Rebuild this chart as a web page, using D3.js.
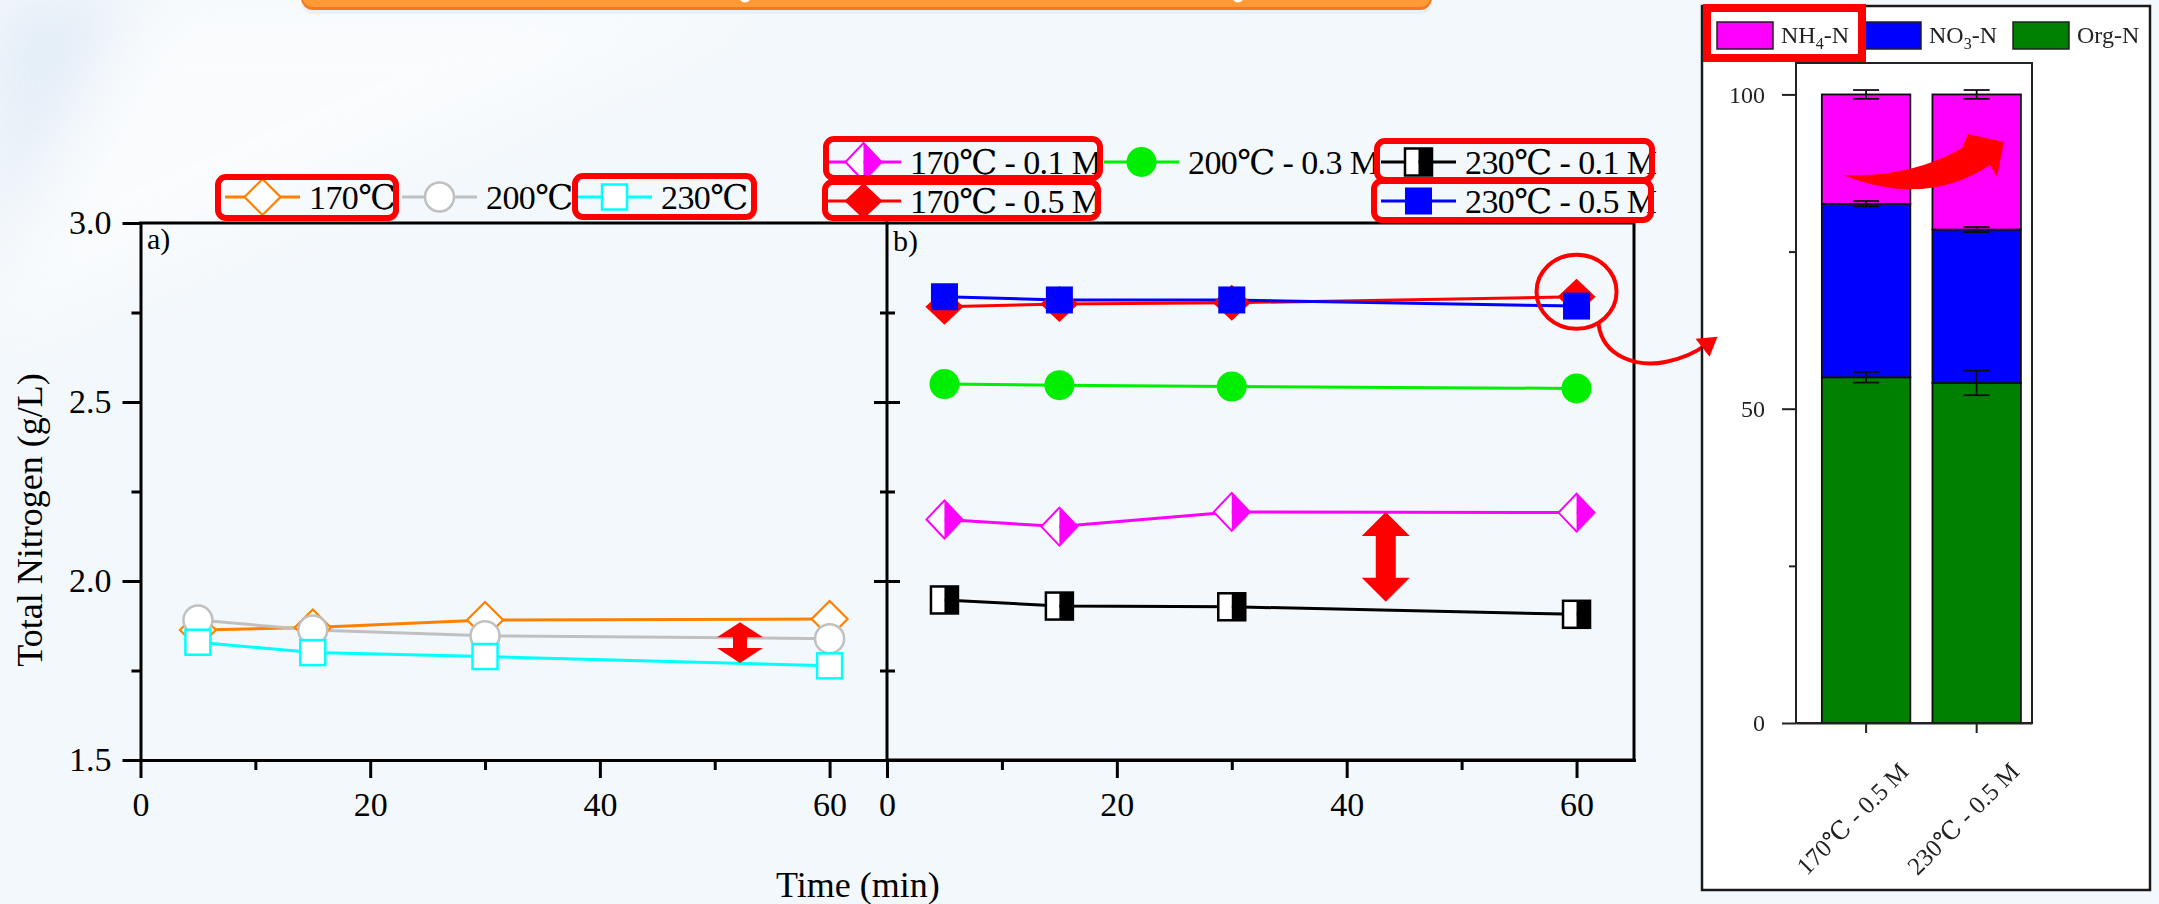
<!DOCTYPE html>
<html>
<head>
<meta charset="utf-8">
<script src="https://cdn.jsdelivr.net/npm/d3@7"></script>
<style>
  html, body { margin: 0; padding: 0; background: #f3f8fc; }
  svg { display: block; }
</style>
</head>
<body>
<svg id="chart" width="2159" height="904"></svg>
<script>
// ---------------- data ----------------
const timeMin = [5, 15, 30, 60];
const xTicksMajor = [0, 20, 40, 60];
const xTicksMinor = [10, 30, 50];
const yTicksMajor = [1.5, 2.0, 2.5, 3.0];
const yTicksMinor = [1.75, 2.25, 2.75];

// panel a) temperature only (g/L)
const tn170 = [1.863, 1.870, 1.891, 1.894];
const tn200 = [1.891, 1.863, 1.847, 1.839];
const tn230 = [1.829, 1.800, 1.789, 1.763];

// panel b) temperature + acid concentration (g/L)
const tn170_01M = [2.172, 2.152, 2.193, 2.191];
const tn200_03M = [2.550, 2.547, 2.543, 2.538];
const tn230_01M = [1.947, 1.930, 1.928, 1.907];
const tn170_05M = [2.766, 2.774, 2.777, 2.794];
const tn230_05M = [2.794, 2.785, 2.785, 2.768];

const labelsA = ["170℃", "200℃", "230℃"];
const labelsB = ["170℃ - 0.1 M", "200℃ - 0.3 M", "230℃ - 0.1 M", "170℃ - 0.5 M", "230℃ - 0.5 M"];

// nitrogen speciation (%)
const barCategories = ["170℃ - 0.5 M", "230℃ - 0.5 M"];
const orgN = [55.0, 54.1];
const no3N = [27.6, 24.4];
const nh4N = [17.4, 21.5];
const orgErr = [0.85, 1.95];
const no3Err = [0.45, 0.40];
const nh4Err = [0.70, 0.70];
const barTicksMajor = [0, 50, 100];
const barTicksMinor = [25, 75];

// ---------------- styles ----------------
const SERIF = "'Liberation Serif','Times New Roman','DejaVu Serif',serif";
const style = {
  diamondOpen: { color: "#ff8000", hw: 18, hh: 18, fill: "#ffffff" },
  circleOpen:  { color: "#c0c0c0", r: 14.5, fill: "#ffffff" },
  squareOpen:  { color: "#00ffff", half: 12.5, fill: "#ffffff" },
  diamondHalf: { color: "#ff00ff", hw: 18, hh: 19 },
  circleFill:  { color: "#00ee00", r: 15 },
  squareHalf:  { color: "#000000", half: 13.5 },
  diamondFill: { color: "#ff0000", hw: 19, hh: 18 },
  squareFill:  { color: "#0000ff", half: 13.5 }
};

const seriesA = [
  { label: labelsA[0], values: tn170, shape: "diamondOpen" },
  { label: labelsA[1], values: tn200, shape: "circleOpen" },
  { label: labelsA[2], values: tn230, shape: "squareOpen" }
];
const seriesB = [
  { label: labelsB[0], values: tn170_01M, shape: "diamondHalf" },
  { label: labelsB[1], values: tn200_03M, shape: "circleFill" },
  { label: labelsB[2], values: tn230_01M, shape: "squareHalf" },
  { label: labelsB[3], values: tn170_05M, shape: "diamondFill" },
  { label: labelsB[4], values: tn230_05M, shape: "squareFill" }
];

const svg = d3.select("#chart");

// ---------------- background ----------------
const defs = svg.append("defs");
defs.append("filter").attr("id", "soft").attr("x", "-50%").attr("y", "-50%").attr("width", "200%").attr("height", "200%")
  .append("feGaussianBlur").attr("stdDeviation", 30);
defs.append("filter").attr("id", "lightBlur")
  .append("feGaussianBlur").attr("stdDeviation", 0.45);

svg.append("rect").attr("width", 2159).attr("height", 904).attr("fill", "#f3f8fc");
svg.append("path").attr("d", "M0,0 L160,0 L0,300 Z").attr("fill", "#dfeaf5").attr("opacity", 0.8).attr("filter", "url(#soft)");
svg.append("path").attr("d", "M120,0 L760,0 L0,330 L0,220 Z").attr("fill", "#ffffff").attr("opacity", 0.55).attr("filter", "url(#soft)");

// header bar cut by the top edge
svg.append("rect").attr("x", 301).attr("y", -30).attr("width", 1131).attr("height", 44).attr("rx", 12)
  .attr("fill", "#e6ebef").attr("opacity", 0.7);
svg.append("rect").attr("x", 301).attr("y", -30).attr("width", 1131).attr("height", 40).attr("rx", 12)
  .attr("fill", "#f27a1f");
svg.append("rect").attr("x", 302).attr("y", -30).attr("width", 1129).attr("height", 37).attr("rx", 11)
  .attr("fill", "#ff9a36");
[745, 1238].forEach(cx => {
  svg.append("path").attr("d", `M${cx - 5},0 Q${cx},5 ${cx + 5},0`).attr("fill", "#ffffff");
});

// ---------------- scales ----------------
const y = d3.scaleLinear().domain([1.5, 3.0]).range([760, 223]);
const xA = d3.scaleLinear().domain([0, 65]).range([140.5, 887]);
const xB = d3.scaleLinear().domain([0, 65]).range([887, 1634]);

// ---------------- marker drawing ----------------
function drawMarker(g, shape, cx, cy) {
  const s = style[shape];
  if (shape === "diamondOpen") {
    g.append("path").attr("d", `M${cx},${cy - s.hh} L${cx + s.hw},${cy} L${cx},${cy + s.hh} L${cx - s.hw},${cy} Z`)
      .attr("fill", s.fill).attr("stroke", s.color).attr("stroke-width", 2.2);
  } else if (shape === "circleOpen") {
    g.append("circle").attr("cx", cx).attr("cy", cy).attr("r", s.r)
      .attr("fill", s.fill).attr("stroke", s.color).attr("stroke-width", 2.5);
  } else if (shape === "squareOpen") {
    g.append("rect").attr("x", cx - s.half).attr("y", cy - s.half).attr("width", 2 * s.half).attr("height", 2 * s.half)
      .attr("fill", s.fill).attr("stroke", s.color).attr("stroke-width", 2.5);
  } else if (shape === "diamondHalf") {
    g.append("path").attr("d", `M${cx},${cy - s.hh} L${cx},${cy + s.hh} L${cx - s.hw},${cy} Z`).attr("fill", "#ffffff");
    g.append("path").attr("d", `M${cx},${cy - s.hh} L${cx + s.hw},${cy} L${cx},${cy + s.hh} Z`).attr("fill", s.color);
    g.append("path").attr("d", `M${cx},${cy - s.hh} L${cx + s.hw},${cy} L${cx},${cy + s.hh} L${cx - s.hw},${cy} Z`)
      .attr("fill", "none").attr("stroke", s.color).attr("stroke-width", 2);
  } else if (shape === "circleFill") {
    g.append("circle").attr("cx", cx).attr("cy", cy).attr("r", s.r).attr("fill", s.color);
  } else if (shape === "squareHalf") {
    g.append("rect").attr("x", cx - s.half).attr("y", cy - s.half).attr("width", s.half).attr("height", 2 * s.half).attr("fill", "#ffffff");
    g.append("rect").attr("x", cx).attr("y", cy - s.half).attr("width", s.half).attr("height", 2 * s.half).attr("fill", s.color);
    g.append("rect").attr("x", cx - s.half).attr("y", cy - s.half).attr("width", 2 * s.half).attr("height", 2 * s.half)
      .attr("fill", "none").attr("stroke", s.color).attr("stroke-width", 2.5);
  } else if (shape === "diamondFill") {
    g.append("path").attr("d", `M${cx},${cy - s.hh} L${cx + s.hw},${cy} L${cx},${cy + s.hh} L${cx - s.hw},${cy} Z`)
      .attr("fill", s.color);
  } else if (shape === "squareFill") {
    g.append("rect").attr("x", cx - s.half).attr("y", cy - s.half).attr("width", 2 * s.half).attr("height", 2 * s.half)
      .attr("fill", s.color);
  }
}

function drawSeries(g, x, series) {
  series.forEach(sr => {
    const pts = timeMin.map((t, i) => [x(t), y(sr.values[i])]);
    g.append("path").attr("d", d3.line()(pts)).attr("fill", "none")
      .attr("stroke", style[sr.shape].color).attr("stroke-width", 3);
  });
  series.forEach(sr => {
    const mg = g.append("g");
    timeMin.forEach((t, i) => drawMarker(mg, sr.shape, x(t), y(sr.values[i])));
  });
}

function styleAxis(sel, width) {
  sel.select(".domain").attr("stroke", "#000").attr("stroke-width", width).attr("stroke-linecap", "square");
  sel.selectAll(".tick line").attr("stroke", "#000").attr("stroke-width", width);
  sel.selectAll(".tick text").attr("fill", "#000").attr("font-family", SERIF).attr("font-size", 34);
}

// ---------------- panel a ----------------
const pa = svg.append("g");
pa.append("line").attr("x1", xA(0)).attr("x2", xA(65)).attr("y1", y(3.0)).attr("y2", y(3.0))
  .attr("stroke", "#000").attr("stroke-width", 3).attr("stroke-linecap", "square");
pa.append("g").attr("transform", `translate(${xA(0)},0)`)
  .call(d3.axisLeft(y).tickValues(yTicksMajor).tickSize(18).tickSizeOuter(0).tickPadding(11).tickFormat(d3.format(".1f")))
  .call(s => styleAxis(s, 3));
pa.append("g").attr("transform", `translate(${xA(0)},0)`)
  .call(d3.axisLeft(y).tickValues(yTicksMinor).tickSize(9).tickFormat(""))
  .call(s => { s.select(".domain").remove(); s.selectAll(".tick line").attr("stroke", "#000").attr("stroke-width", 3); });
pa.append("g").attr("transform", `translate(0,${y(1.5)})`)
  .call(d3.axisBottom(xA).tickValues(xTicksMajor).tickSize(18).tickSizeOuter(0).tickPadding(14))
  .call(s => styleAxis(s, 3));
pa.append("g").attr("transform", `translate(0,${y(1.5)})`)
  .call(d3.axisBottom(xA).tickValues(xTicksMinor).tickSize(10).tickFormat(""))
  .call(s => { s.select(".domain").remove(); s.selectAll(".tick line").attr("stroke", "#000").attr("stroke-width", 3); });
pa.append("text").attr("x", 147).attr("y", 249).attr("font-family", SERIF).attr("font-size", 30).text("a)");

// ---------------- panel b ----------------
const pb = svg.append("g");
pb.append("rect").attr("x", xB(0)).attr("y", y(3.0)).attr("width", xB(65) - xB(0)).attr("height", y(1.5) - y(3.0))
  .attr("fill", "none").attr("stroke", "#000").attr("stroke-width", 3);
pb.append("g").attr("transform", `translate(${xB(0)},0)`)
  .call(d3.axisLeft(y).tickValues(yTicksMajor.slice(1, 3)).tickSize(13).tickFormat(""))
  .call(s => { s.select(".domain").remove(); s.selectAll(".tick line").attr("stroke", "#000").attr("stroke-width", 3); });
pb.append("g").attr("transform", `translate(${xB(0)},0)`)
  .call(d3.axisRight(y).tickValues(yTicksMajor.slice(1, 3)).tickSize(13).tickFormat(""))
  .call(s => { s.select(".domain").remove(); s.selectAll(".tick line").attr("stroke", "#000").attr("stroke-width", 3); });
pb.append("g").attr("transform", `translate(${xB(0)},0)`)
  .call(d3.axisLeft(y).tickValues(yTicksMinor).tickSize(7).tickFormat(""))
  .call(s => { s.select(".domain").remove(); s.selectAll(".tick line").attr("stroke", "#000").attr("stroke-width", 3); });
pb.append("g").attr("transform", `translate(${xB(0)},0)`)
  .call(d3.axisRight(y).tickValues(yTicksMinor).tickSize(8).tickFormat(""))
  .call(s => { s.select(".domain").remove(); s.selectAll(".tick line").attr("stroke", "#000").attr("stroke-width", 3); });
pb.append("g").attr("transform", `translate(0,${y(1.5)})`)
  .call(d3.axisBottom(xB).tickValues(xTicksMajor).tickSize(18).tickSizeOuter(0).tickPadding(14))
  .call(s => styleAxis(s, 3));
pb.append("g").attr("transform", `translate(0,${y(1.5)})`)
  .call(d3.axisBottom(xB).tickValues(xTicksMinor).tickSize(10).tickFormat(""))
  .call(s => { s.select(".domain").remove(); s.selectAll(".tick line").attr("stroke", "#000").attr("stroke-width", 3); });
pb.append("text").attr("x", 893).attr("y", 251).attr("font-family", SERIF).attr("font-size", 30).text("b)");

// axis titles
svg.append("text").attr("transform", "translate(42,520) rotate(-90)").attr("text-anchor", "middle")
  .attr("font-family", SERIF).attr("font-size", 36).attr("fill", "#000").text("Total Nitrogen (g/L)");
svg.append("text").attr("x", 776).attr("y", 897)
  .attr("font-family", SERIF).attr("font-size", 36).attr("fill", "#000").text("Time (min)");

// data
drawSeries(pa.append("g"), xA, seriesA);
drawSeries(pb.append("g"), xB, seriesB);

// ---------------- legends ----------------
function legendItem(g, sr, x0, cy) {
  g.append("line").attr("x1", x0).attr("x2", x0 + 75).attr("y1", cy).attr("y2", cy)
    .attr("stroke", style[sr.shape].color).attr("stroke-width", 3);
  drawMarker(g, sr.shape, x0 + 37.5, cy);
  g.append("text").attr("x", x0 + 84).attr("y", cy + 11.5).attr("font-family", SERIF).attr("font-size", 34)
    .attr("letter-spacing", -0.6).attr("fill", "#000").text(sr.label);
}
const lg = svg.append("g");
legendItem(lg, seriesA[0], 225, 197);
legendItem(lg, seriesA[1], 402, 197);
legendItem(lg, seriesA[2], 577, 197);
legendItem(lg, seriesB[0], 826, 162);
legendItem(lg, seriesB[1], 1104, 162);
legendItem(lg, seriesB[2], 1381, 162);
legendItem(lg, seriesB[3], 826, 201);
legendItem(lg, seriesB[4], 1381, 201);

// highlight frames around legend entries
const hl = svg.append("g").attr("fill", "none").attr("stroke", "#ff0000").attr("stroke-width", 6);
[[218, 177, 178, 41], [575, 176, 179, 41], [826, 139, 274, 39], [825, 182, 273, 36],
 [1377, 141, 275, 39], [1374, 181, 277, 39]].forEach(r => {
  hl.append("rect").attr("x", r[0]).attr("y", r[1]).attr("width", r[2]).attr("height", r[3]).attr("rx", 8);
});

// double arrows marking the gap between conditions
function doubleArrow(cx, y1, y2, headW, headL, shaftW) {
  return `M${cx},${y1} L${cx + headW / 2},${y1 + headL} L${cx + shaftW / 2},${y1 + headL} L${cx + shaftW / 2},${y2 - headL}` +
    ` L${cx + headW / 2},${y2 - headL} L${cx},${y2} L${cx - headW / 2},${y2 - headL} L${cx - shaftW / 2},${y2 - headL}` +
    ` L${cx - shaftW / 2},${y1 + headL} L${cx - headW / 2},${y1 + headL} Z`;
}
svg.append("path").attr("d", doubleArrow(xA(52.2), y(1.885), y(1.771), 46, 15, 14)).attr("fill", "#ff0000");
svg.append("path").attr("d", doubleArrow(xB(43.4), y(2.193), y(1.942), 48, 24, 20)).attr("fill", "#ff0000");

// callout from the last 170℃ - 0.5 M point to the speciation bars
const cx60 = xB(60), cy60 = y(tn170_05M[3]) - 5;
svg.append("ellipse").attr("cx", cx60).attr("cy", cy60).attr("rx", 40).attr("ry", 37)
  .attr("fill", "none").attr("stroke", "#ff0000").attr("stroke-width", 4);
svg.append("path").attr("d", `M${cx60 + 22},${cy60 + 32} C${cx60 + 26},${cy60 + 66} ${cx60 + 62},${cy60 + 76} ${cx60 + 90},${cy60 + 70} C${cx60 + 108},${cy60 + 66} ${cx60 + 120},${cy60 + 60} ${cx60 + 128},${cy60 + 54}`)
  .attr("fill", "none").attr("stroke", "#ff0000").attr("stroke-width", 4);

// ---------------- speciation panel ----------------
const bp = svg.append("g");
bp.append("rect").attr("x", 1702).attr("y", 6).attr("width", 448).attr("height", 884)
  .attr("fill", "#ffffff").attr("stroke", "#1a1a1a").attr("stroke-width", 2.5);
// arrow head of the callout sits on the panel edge
svg.append("path").attr("d", `M${cx60 + 141},${cy60 + 45} L${cx60 + 119},${cy60 + 47} L${cx60 + 133},${cy60 + 65} Z`).attr("fill", "#ff0000");

const bx = d3.scaleBand().domain(barCategories).range([1796, 2032]).paddingInner(0.2).paddingOuter(0.167).align(0.7);
const by = d3.scaleLinear().domain([0, 105]).range([723, 63]);

const barTable = barCategories.map((c, i) => ({ cat: c, org: orgN[i], no3: no3N[i], nh4: nh4N[i] }));
const errTable = { org: orgErr, no3: no3Err, nh4: nh4Err };
const barColors = { org: "#008000", no3: "#0000ff", nh4: "#ff00ff" };
const stacked = d3.stack().keys(["org", "no3", "nh4"])(barTable);

const bg = bp.append("g").attr("filter", "url(#lightBlur)");
bg.append("rect").attr("x", 1796).attr("y", 63).attr("width", 236).attr("height", 660)
  .attr("fill", "#ffffff").attr("stroke", "#222").attr("stroke-width", 2);

stacked.forEach(layer => {
  bg.append("g").selectAll("rect").data(layer).join("rect")
    .attr("x", d => bx(d.data.cat)).attr("width", bx.bandwidth())
    .attr("y", d => by(d[1])).attr("height", d => by(d[0]) - by(d[1]))
    .attr("fill", barColors[layer.key]).attr("stroke", "#111").attr("stroke-width", 1.8);
});
stacked.forEach(layer => {
  layer.forEach((d, i) => {
    const cx = bx(d.data.cat) + bx.bandwidth() / 2;
    const e = errTable[layer.key][i];
    const yT = by(d[1] + e), yB = by(d[1] - e);
    const eg = bg.append("g").attr("stroke", "#111").attr("stroke-width", 1.8);
    eg.append("line").attr("x1", cx).attr("x2", cx).attr("y1", yT).attr("y2", yB);
    eg.append("line").attr("x1", cx - 13).attr("x2", cx + 13).attr("y1", yT).attr("y2", yT);
    eg.append("line").attr("x1", cx - 13).attr("x2", cx + 13).attr("y1", yB).attr("y2", yB);
  });
});

bg.append("g").attr("transform", "translate(1796,0)")
  .call(d3.axisLeft(by).tickValues(barTicksMajor).tickSize(14).tickSizeOuter(0).tickPadding(17))
  .call(s => {
    s.select(".domain").remove();
    s.selectAll(".tick line").attr("stroke", "#222").attr("stroke-width", 2);
    s.selectAll(".tick text").attr("fill", "#222").attr("font-family", SERIF).attr("font-size", 24);
  });
bg.append("g").attr("transform", "translate(1796,0)")
  .call(d3.axisLeft(by).tickValues(barTicksMinor).tickSize(7).tickFormat(""))
  .call(s => { s.select(".domain").remove(); s.selectAll(".tick line").attr("stroke", "#222").attr("stroke-width", 2); });
bg.append("g").attr("transform", "translate(0,723)")
  .call(d3.axisBottom(bx).tickSize(10).tickSizeOuter(0))
  .call(s => {
    s.select(".domain").attr("stroke", "#222").attr("stroke-width", 2);
    s.selectAll(".tick line").attr("stroke", "#222").attr("stroke-width", 2);
    s.selectAll(".tick text").attr("fill", "#222").attr("font-family", SERIF).attr("font-size", 25)
      .attr("text-anchor", "end").attr("y", 0).attr("dy", 0)
      .attr("transform", "translate(44,50) rotate(-45)");
  });

// legend of the speciation panel
const blg = bp.append("g").attr("filter", "url(#lightBlur)");
const legendKeys = [
  { key: "nh4", main: "NH", sub: "4", tail: "-N", x: 1717 },
  { key: "no3", main: "NO", sub: "3", tail: "-N", x: 1865 },
  { key: "org", main: "Org-N", sub: "", tail: "", x: 2013 }
];
legendKeys.forEach(k => {
  blg.append("rect").attr("x", k.x).attr("y", 22).attr("width", 56).attr("height", 27)
    .attr("fill", barColors[k.key]).attr("stroke", "#222").attr("stroke-width", 1.5);
  const t = blg.append("text").attr("x", k.x + 64).attr("y", 43).attr("font-family", SERIF).attr("font-size", 24).attr("fill", "#222");
  t.append("tspan").text(k.main);
  if (k.sub) {
    t.append("tspan").attr("font-size", 16).attr("dy", 6).text(k.sub);
    t.append("tspan").attr("dy", -6).text(k.tail);
  }
});
bp.append("rect").attr("x", 1707).attr("y", 8).attr("width", 155).attr("height", 50)
  .attr("fill", "none").attr("stroke", "#ff0000").attr("stroke-width", 8);

// curved arrow showing the NH4-N increase
bp.append("path")
  .attr("d", "M1843,175 Q1910,178 1962,148 L1968,134 L2004,142 L1997,177 L1990,165 Q1925,208 1843,175 Z")
  .attr("fill", "#ff0000");
</script>
</body>
</html>
